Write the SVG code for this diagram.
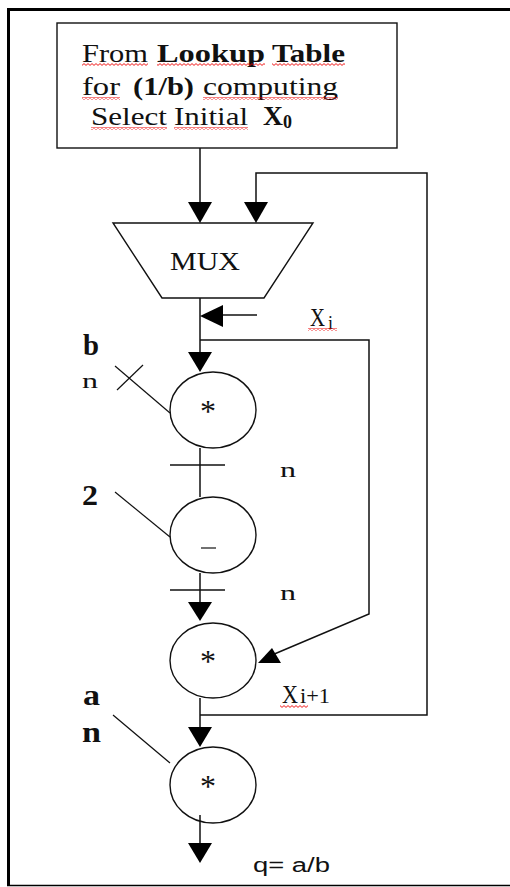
<svg xmlns="http://www.w3.org/2000/svg" width="510" height="887" viewBox="0 0 510 887">
<style>
.ln{stroke:#111;stroke-width:1.5;fill:none}
.thin{stroke:#111;stroke-width:1.2;fill:none}
.node{stroke:#111;stroke-width:1.4;fill:#fff}
.ah{fill:#000;stroke:none}
.sf{font-family:"Liberation Serif","Times New Roman",serif;fill:#111}
.b{font-weight:bold}
.ss{font-family:"Liberation Sans",Arial,sans-serif;fill:#111}
.ast{font-family:"Liberation Serif","Times New Roman",serif;fill:#111;font-size:32px;text-anchor:middle}
.wave{fill:url(#wv)}
</style>
<defs>
<pattern id="wv" patternUnits="userSpaceOnUse" width="4" height="3">
<path d="M0 0.6 L2 2.4 L4 0.6" stroke="#e00" stroke-width="0.9" fill="none"/>
</pattern>
</defs>
<rect width="510" height="887" fill="#fff"/>
<g id="frame">
<line x1="8.5" y1="8" x2="8.5" y2="886" stroke="#000" stroke-width="3"/>
<line x1="7" y1="9.5" x2="510" y2="9.5" stroke="#000" stroke-width="3"/>
<line x1="7" y1="885.5" x2="510" y2="885.5" stroke="#000" stroke-width="1.5"/>
</g>
<g id="lookup">
<rect class="node" x="57" y="23" width="340" height="125"/>
<text class="sf" font-size="26" x="82" y="62" textLength="66" lengthAdjust="spacingAndGlyphs">From</text>
<text class="sf b" font-size="26" x="157" y="62" textLength="108" lengthAdjust="spacingAndGlyphs">Lookup</text>
<text class="sf b" font-size="26" x="272" y="62" textLength="73" lengthAdjust="spacingAndGlyphs">Table</text>
<text class="sf" font-size="26" x="82" y="95" textLength="38" lengthAdjust="spacingAndGlyphs">for</text>
<text class="sf b" font-size="26" x="133" y="95" textLength="61" lengthAdjust="spacingAndGlyphs">(1/b)</text>
<text class="sf" font-size="26" x="203" y="95" textLength="135" lengthAdjust="spacingAndGlyphs">computing</text>
<text class="sf" font-size="26" x="91" y="125" textLength="76" lengthAdjust="spacingAndGlyphs">Select</text>
<text class="sf" font-size="26" x="174" y="125" textLength="74" lengthAdjust="spacingAndGlyphs">Initial</text>
<text class="sf b" font-size="28" x="263" y="125" textLength="20" lengthAdjust="spacingAndGlyphs">X</text>
<text class="sf b" font-size="18" x="283" y="128">0</text>
<rect class="wave" x="82" y="63" width="66" height="3"/>
<rect class="wave" x="157" y="63" width="108" height="3"/>
<rect class="wave" x="272" y="63" width="73" height="3"/>
<rect class="wave" x="82" y="97" width="38" height="3"/>
<rect class="wave" x="203" y="97" width="135" height="3"/>
<rect class="wave" x="91" y="127" width="76" height="3"/>
<rect class="wave" x="174" y="127" width="74" height="3"/>
</g>
<g id="mux">
<polygon class="node" points="113,223 313,223 264,298 162,298"/>
<text class="sf" font-size="26" x="170" y="270" textLength="70" lengthAdjust="spacingAndGlyphs">MUX</text>
</g>
<g id="mul1">
<ellipse class="node" cx="213" cy="410" rx="43" ry="38"/>
<text class="ast" x="208" y="422">*</text>
</g>
<g id="sub">
<ellipse class="node" cx="213" cy="535" rx="43" ry="38"/>
<line class="thin" x1="201" y1="548" x2="216" y2="548" stroke-width="1.6"/>
</g>
<g id="mul2">
<ellipse class="node" cx="213" cy="660.5" rx="43" ry="37.5"/>
<text class="ast" x="208" y="672">*</text>
</g>
<g id="mul3">
<ellipse class="node" cx="213" cy="785" rx="43" ry="38"/>
<text class="ast" x="208" y="797">*</text>
</g>
<g id="connectors">
<line class="ln" x1="200" y1="148" x2="200" y2="205"/>
<polygon class="ah" points="188,202 212,202 200,223"/>
<polyline class="ln" points="256,205 256,173 427,173 427,715 200,715"/>
<polygon class="ah" points="244,202 268,202 256,223"/>
<line class="ln" x1="200" y1="298" x2="200" y2="355"/>
<line class="ln" x1="220" y1="315" x2="257" y2="315"/>
<polygon class="ah" points="200,316 223,305 223,327"/>
<polyline class="ln" points="200,340 369,340 369,614 272,655"/>
<polygon class="ah" points="258,663 272,648 281,663"/>
<polygon class="ah" points="188,352 212,352 200,372"/>
<line class="ln" x1="200" y1="448" x2="200" y2="497"/>
<line class="ln" x1="170" y1="465" x2="225" y2="465"/>
<line class="ln" x1="200" y1="573" x2="200" y2="605"/>
<line class="ln" x1="170" y1="590" x2="225" y2="590"/>
<polygon class="ah" points="188,602 212,602 200,621"/>
<line class="ln" x1="200" y1="698" x2="200" y2="730"/>
<polygon class="ah" points="188,727 212,727 200,747"/>
<line class="ln" x1="200" y1="815" x2="200" y2="846"/>
<polygon class="ah" points="188,843 212,843 200,863"/>
<line class="thin" x1="115" y1="366" x2="170" y2="413"/>
<line class="thin" x1="143" y1="365" x2="117" y2="390"/>
<line class="thin" x1="115" y1="492" x2="170" y2="537"/>
<line class="thin" x1="113" y1="715" x2="170" y2="763"/>
</g>
<g id="labels">
<text class="sf b" font-size="30" x="83" y="355" textLength="16" lengthAdjust="spacingAndGlyphs">b</text>
<text class="sf" font-size="22" x="82" y="388" textLength="16" lengthAdjust="spacingAndGlyphs">n</text>
<text class="sf b" font-size="29" x="82" y="505" textLength="16" lengthAdjust="spacingAndGlyphs">2</text>
<text class="sf" font-size="22" x="280" y="477" textLength="16" lengthAdjust="spacingAndGlyphs">n</text>
<text class="sf" font-size="22" x="280" y="600" textLength="16" lengthAdjust="spacingAndGlyphs">n</text>
<text class="sf b" font-size="29" x="83" y="705" textLength="17" lengthAdjust="spacingAndGlyphs">a</text>
<text class="sf b" font-size="29" x="82" y="742" textLength="19" lengthAdjust="spacingAndGlyphs">n</text>
<text class="sf" font-size="26" x="310" y="326" textLength="15" lengthAdjust="spacingAndGlyphs">X</text>
<text class="sf" font-size="18" x="328" y="329">i</text>
<rect class="wave" x="308" y="328" width="29" height="3"/>
<text class="sf" font-size="26" x="282" y="703" textLength="16" lengthAdjust="spacingAndGlyphs">X</text>
<text class="sf" font-size="20" x="300" y="703" textLength="30" lengthAdjust="spacingAndGlyphs">i+1</text>
<rect class="wave" x="280" y="705" width="28" height="3"/>
<text class="ss" font-size="20" x="253" y="872" textLength="77" lengthAdjust="spacingAndGlyphs">q= a/b</text>
</g>
</svg>
